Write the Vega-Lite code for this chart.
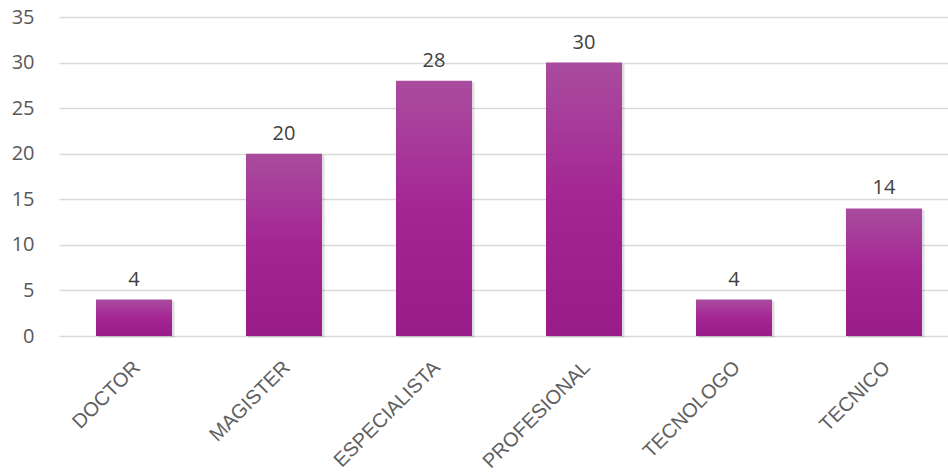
{
  "$schema": "https://vega.github.io/schema/vega-lite/v6.json",
  "autosize": {"type": "none"},
  "width": 890,
  "height": 319,
  "padding": {"left": 58, "top": 17, "right": 0, "bottom": 137},
  "background": "white",
  "data": {
    "values": [
      {"nivel": "DOCTOR", "cantidad": 4},
      {"nivel": "MAGISTER", "cantidad": 20},
      {"nivel": "ESPECIALISTA", "cantidad": 28},
      {"nivel": "PROFESIONAL", "cantidad": 30},
      {"nivel": "TECNOLOGO", "cantidad": 4},
      {"nivel": "TECNICO", "cantidad": 14}
    ]
  },
  "encoding": {
    "x": {
      "field": "nivel",
      "type": "nominal",
      "sort": null,
      "scale": {"range": [1, 901], "paddingInner": 0.493, "paddingOuter": 0.2465},
      "axis": {
        "title": null,
        "labelAngle": -45,
        "labelAlign": "right",
        "labelBaseline": "middle",
        "labelPadding": 28,
        "labelOffset": 3,
        "labelFont": "Liberation Sans",
        "labelFontSize": 20,
        "labelColor": "#5f5f5f",
        "domain": false,
        "ticks": false,
        "grid": false
      }
    },
    "y": {
      "field": "cantidad",
      "type": "quantitative",
      "scale": {"domain": [0, 35], "nice": false},
      "axis": {
        "title": null,
        "values": [0, 5, 10, 15, 20, 25, 30, 35],
        "labelFont": "Open Sans",
        "labelFontSize": 20,
        "labelColor": "#595959",
        "labelPadding": 24,
        "domain": false,
        "ticks": false,
        "grid": true,
        "gridColor": "#d9d9d9",
        "gridWidth": 1.5
      }
    }
  },
  "layer": [
    {
      "mark": {
        "type": "bar",
        "color": "#000000",
        "opacity": 0.12,
        "xOffset": 2.5,
        "yOffset": 1.5,
        "y2Offset": 2
      }
    },
    {
      "mark": {
        "type": "bar",
        "color": {
          "gradient": "linear",
          "x1": 0, "y1": 0, "x2": 0, "y2": 1,
          "stops": [
            {"offset": 0, "color": "#a94c9e"},
            {"offset": 0.5, "color": "#a42594"},
            {"offset": 1, "color": "#981c89"}
          ]
        }
      }
    },
    {
      "mark": {
        "type": "text",
        "dy": -14,
        "font": "Open Sans",
        "fontSize": 20,
        "color": "#404040",
        "baseline": "alphabetic"
      },
      "encoding": {"text": {"field": "cantidad", "type": "quantitative"}}
    }
  ],
  "config": {"view": {"stroke": null}}
}
